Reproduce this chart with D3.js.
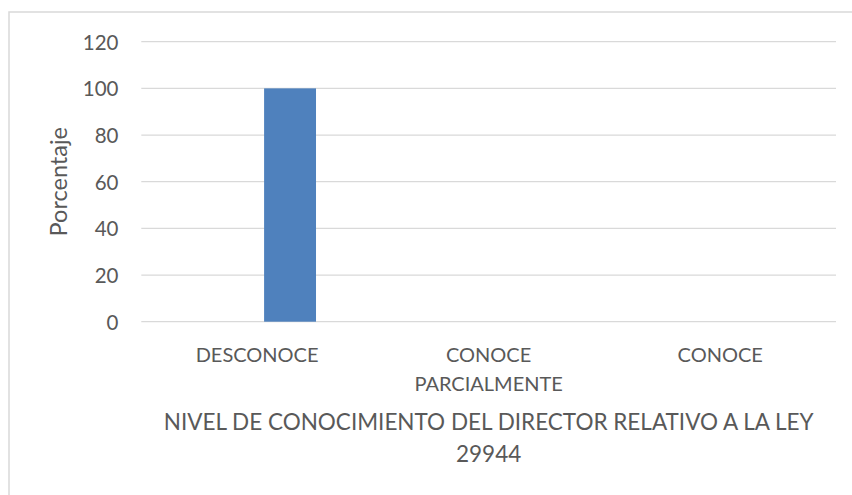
<!DOCTYPE html>
<html>
<head>
<meta charset="utf-8">
<script src="https://cdn.jsdelivr.net/npm/d3@7"></script>
<style>
  html, body { margin: 0; padding: 0; background: #fff; }
  svg { display: block; }
  text { font-family: Lato, "Open Sans", sans-serif; fill: #595959; }
</style>
</head>
<body>
<svg id="chart" width="852" height="495"></svg>
<script>
const categories = ["DESCONOCE", "CONOCE PARCIALMENTE", "CONOCE"];
const categoryLines = [["DESCONOCE"], ["CONOCE", "PARCIALMENTE"], ["CONOCE"]];
const seriesNames = ["Serie 1", "Porcentaje"];
const serie1Values = [0, 0, 0];
const serie2Values = [100, 0, 0];
const yTicks = [0, 20, 40, 60, 80, 100, 120];
const yAxisTitle = "Porcentaje";
const xAxisTitleLines = ["NIVEL DE CONOCIMIENTO DEL DIRECTOR RELATIVO A LA LEY", "29944"];

const seriesValues = [serie1Values, serie2Values];
const data = [];
categories.forEach((c, i) => {
  seriesNames.forEach((s, j) => data.push({ cat: c, series: s, value: seriesValues[j][i] }));
});

const svg = d3.select("#chart");
const plot = { left: 141.3, right: 836, top: 41.7, bottom: 321.7 };

// outer frame
svg.append("rect")
  .attr("x", 9).attr("y", 12).attr("width", 900).attr("height", 600)
  .attr("fill", "none").attr("stroke", "#d9d9d9").attr("stroke-width", 1.5);

const x0 = d3.scaleBand().domain(categories).range([plot.left, plot.right]).paddingInner(0).paddingOuter(0);
const x1 = d3.scaleBand().domain(seriesNames).range([0, x0.bandwidth()])
  .paddingInner(0.27 / 1.27).paddingOuter(1.095 / 1.27);
const y = d3.scaleLinear().domain([0, 120]).range([plot.bottom, plot.top]);

// gridlines
svg.append("g").selectAll("line").data(yTicks).join("line")
  .attr("x1", plot.left).attr("x2", plot.right)
  .attr("y1", d => y(d)).attr("y2", d => y(d))
  .attr("stroke", "#d9d9d9").attr("stroke-width", 1.3);

// y tick labels
const yAxis = d3.axisLeft(y).tickValues(yTicks).tickSize(0).tickPadding(0);
const yg = svg.append("g").attr("transform", `translate(118.5,0)`).call(yAxis);
yg.select(".domain").remove();
yg.selectAll("text").attr("font-size", 20.5).attr("font-family", "Lato, 'Open Sans', sans-serif")
  .attr("fill", "#595959").attr("dy", "0.36em").attr("x", 0);

// bars
svg.append("g").selectAll("rect").data(data.filter(d => d.value > 0)).join("rect")
  .attr("x", d => x0(d.cat) + x1(d.series))
  .attr("width", x1.bandwidth())
  .attr("y", d => y(d.value))
  .attr("height", d => y(0) - y(d.value))
  .attr("fill", "#4f81bd");

// category labels
const cl = svg.append("g").selectAll("text").data(categories).join("text")
  .attr("text-anchor", "middle")
  .attr("font-size", 20)
  .attr("y", 361.7);
cl.each(function(d, i) {
  const t = d3.select(this);
  categoryLines[i].forEach((line, k) => {
    t.append("tspan").attr("x", x0(d) + x0.bandwidth() / 2).attr("dy", k === 0 ? 0 : 29.5).text(line);
  });
});

// y axis title
svg.append("text")
  .attr("transform", `translate(67,${(plot.top + plot.bottom) / 2}) rotate(-90)`)
  .attr("text-anchor", "middle")
  .attr("font-size", 23.5)
  .text(yAxisTitle);

// x axis title
const xt = svg.append("text").attr("text-anchor", "middle").attr("font-size", 22.5).attr("y", 430);
xAxisTitleLines.forEach((line, k) => {
  xt.append("tspan").attr("x", (plot.left + plot.right) / 2).attr("dy", k === 0 ? 0 : 32).text(line);
});
</script>
</body>
</html>
